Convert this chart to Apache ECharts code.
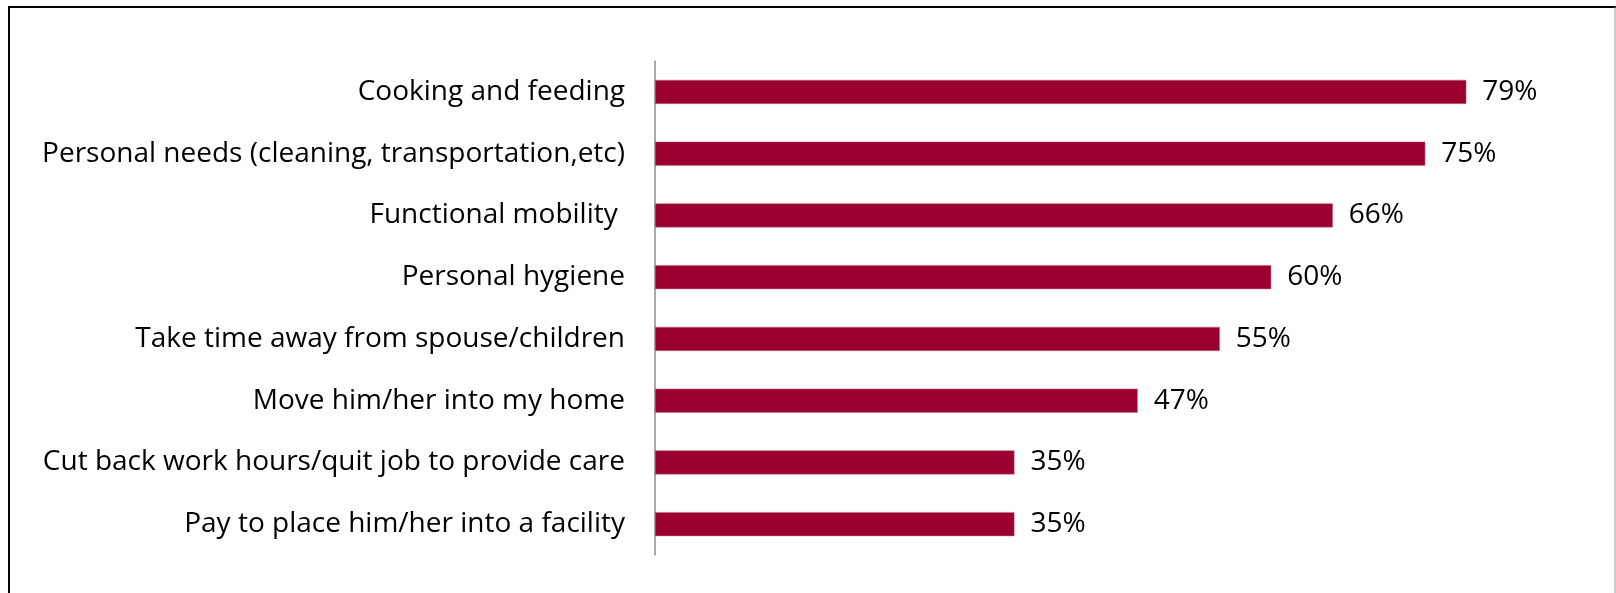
<!DOCTYPE html>
<html>
<head>
<meta charset="utf-8">
<title>Caregiving tasks</title>
<script src="https://cdn.jsdelivr.net/npm/echarts@6/dist/echarts.min.js"></script>
<style>
    html, body { margin: 0; padding: 0; background: #fff; }
    #main { width: 1616px; height: 593px; }
</style>
</head>
<body>
<div id="main"></div>
<script>
    // categories listed top to bottom
    var categories = [
        'Cooking and feeding',
        'Personal needs (cleaning, transportation,etc)',
        'Functional mobility ',
        'Personal hygiene',
        'Take time away from spouse/children',
        'Move him/her into my home',
        'Cut back work hours/quit job to provide care',
        'Pay to place him/her into a facility'
    ];
    var values = [79, 75, 66, 60, 55, 47, 35, 35];

    var fontFamily = '"Open Sans", Lato, sans-serif';

    var myChart = echarts.init(document.getElementById('main'), null, {renderer: 'canvas'});

    myChart.setOption({
        backgroundColor: '#fff',
        animation: false,
        graphic: [
            // frame around the chart (left/top dark, right light)
            {type: 'line', shape: {x1: 9, y1: 7, x2: 9, y2: 593}, style: {stroke: '#000', lineWidth: 2}},
            {type: 'line', shape: {x1: 8, y1: 7, x2: 1616, y2: 7}, style: {stroke: '#000', lineWidth: 2}},
            {type: 'line', shape: {x1: 1615, y1: 7, x2: 1615, y2: 593}, style: {stroke: '#999', lineWidth: 1}}
        ],
        grid: {
            left: 655,
            top: 61,
            width: 821.6,
            height: 494
        },
        xAxis: {
            type: 'value',
            min: 0,
            max: 80,
            show: false
        },
        yAxis: {
            type: 'category',
            inverse: true,
            data: categories,
            axisLine: {lineStyle: {color: '#8c8c8c', width: 1.5}},
            axisTick: {show: false},
            axisLabel: {
                margin: 30,
                color: '#000',
                fontSize: 28,
                fontFamily: fontFamily,
                padding: [6, 0, 0, 0]
            }
        },
        series: [{
            type: 'bar',
            data: values,
            barWidth: 24,
            itemStyle: {color: '#990030', borderColor: '#c46a84', borderWidth: 0.5},
            label: {
                show: true,
                position: 'right',
                distance: 16,
                color: '#000',
                fontSize: 28,
                fontFamily: fontFamily,
                padding: [9, 0, 0, 0],
                formatter: function (p) {
                    return p.value + '%';
                }
            }
        }]
    });
</script>
</body>
</html>
